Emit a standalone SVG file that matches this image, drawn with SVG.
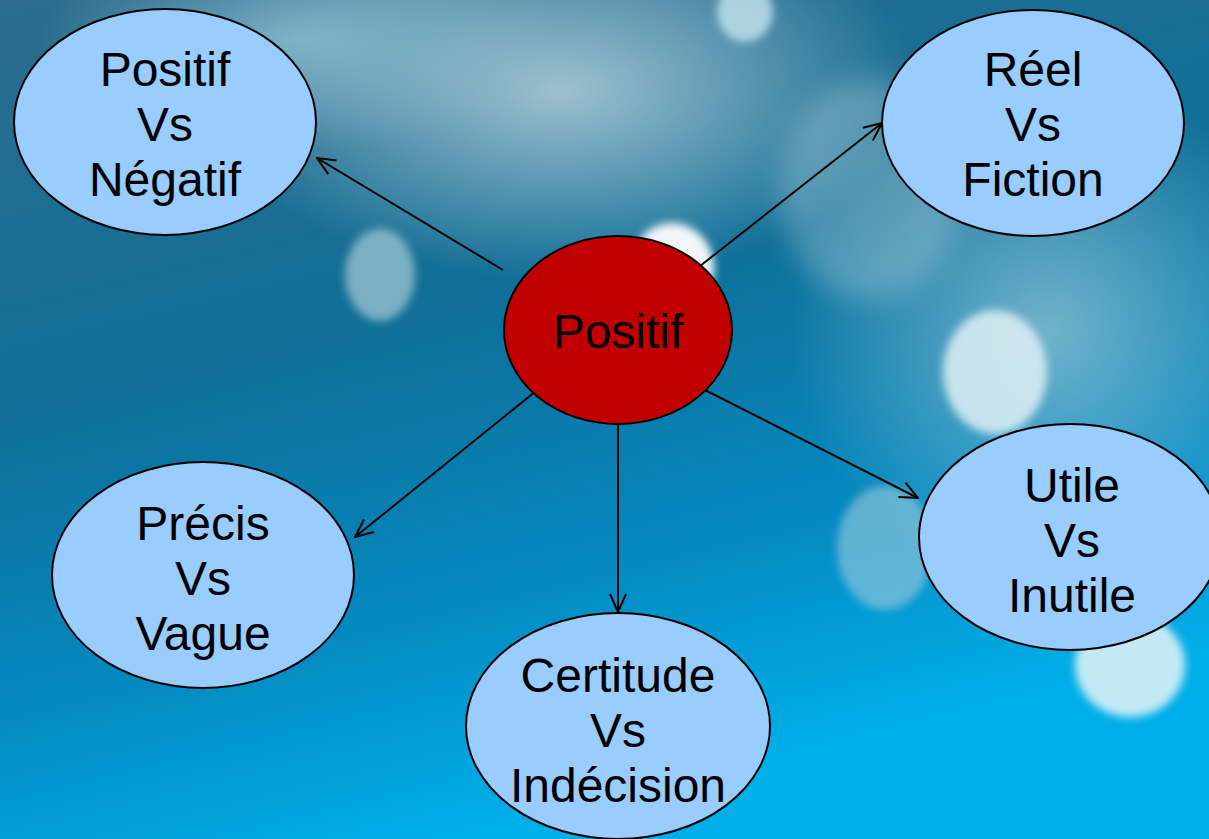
<svg xmlns="http://www.w3.org/2000/svg" width="1209" height="839" viewBox="0 0 1209 839">
<defs>
<linearGradient id="bg" x1="0" y1="0" x2="0.35" y2="1">
<stop offset="0" stop-color="#2d6c8c"/>
<stop offset="0.45" stop-color="#0f6f98"/>
<stop offset="0.75" stop-color="#0588bf"/>
<stop offset="1" stop-color="#00aee8"/>
</linearGradient>
<radialGradient id="haze" cx="0.5" cy="0.5" r="0.5">
<stop offset="0" stop-color="#c9dde4" stop-opacity="0.75"/>
<stop offset="1" stop-color="#c9dde4" stop-opacity="0"/>
</radialGradient>
<radialGradient id="haze2" cx="0.5" cy="0.5" r="0.5">
<stop offset="0" stop-color="#9cc9d8" stop-opacity="0.7"/>
<stop offset="1" stop-color="#9cc9d8" stop-opacity="0"/>
</radialGradient>
<filter id="blur" x="-50%" y="-50%" width="200%" height="200%"><feGaussianBlur stdDeviation="14"/></filter>
<filter id="blur2" x="-50%" y="-50%" width="200%" height="200%"><feGaussianBlur stdDeviation="4"/></filter>
<marker id="arr" viewBox="0 0 20 20" refX="19" refY="10" markerWidth="20" markerHeight="20" markerUnits="userSpaceOnUse" orient="auto">
<path d="M1,2 L19,10 L1,18" fill="none" stroke="#000" stroke-width="2"/>
</marker>
<style>
.n{fill:#99ccff;stroke:#000;stroke-width:2}
.c{fill:#c00000;stroke:#000;stroke-width:2}
text{font-family:"Liberation Sans",Arial,sans-serif;font-size:48px;fill:#000;text-anchor:middle}
.e{stroke:#000;stroke-width:2;fill:none;marker-end:url(#arr)}
</style>
</defs>
<g id="background">
<rect width="1209" height="839" fill="url(#bg)"/>
<ellipse cx="560" cy="90" rx="360" ry="190" fill="url(#haze)"/>
<ellipse cx="300" cy="40" rx="260" ry="110" fill="url(#haze2)"/>
<ellipse cx="1050" cy="330" rx="260" ry="260" fill="url(#haze2)"/>
<ellipse cx="870" cy="190" rx="90" ry="110" fill="#cfe0e6" opacity="0.3" filter="url(#blur)"/>
<ellipse cx="745" cy="12" rx="28" ry="30" fill="#bfe0ea" opacity="0.85" filter="url(#blur2)"/>
<ellipse cx="380" cy="275" rx="35" ry="46" fill="#a8ccd6" opacity="0.7" filter="url(#blur2)"/>
<ellipse cx="995" cy="372" rx="52" ry="62" fill="#dff0f5" opacity="0.85" filter="url(#blur2)"/>
<ellipse cx="885" cy="548" rx="48" ry="62" fill="#9fcbdc" opacity="0.6" filter="url(#blur2)"/>
<ellipse cx="1130" cy="665" rx="55" ry="52" fill="#e6f4f8" opacity="0.85" filter="url(#blur2)"/>
<ellipse cx="672" cy="268" rx="42" ry="45" fill="#f2f8fa" filter="url(#blur2)"/>
</g>
<g id="connectors">
<line class="e" x1="503" y1="270" x2="317" y2="158"/>
<line class="e" x1="695" y1="270" x2="882" y2="123"/>
<line class="e" x1="541" y1="387" x2="355" y2="537"/>
<line class="e" x1="618" y1="424" x2="618" y2="612"/>
<line class="e" x1="705" y1="390" x2="918" y2="498"/>
</g>
<g id="center">
<ellipse class="c" cx="618" cy="330" rx="114" ry="94"/>
<text x="618" y="348">Positif</text>
</g>
<g id="positif-negatif">
<ellipse class="n" cx="165" cy="122" rx="151" ry="113"/>
<text x="165" y="86">Positif</text>
<text x="165" y="141">Vs</text>
<text x="165" y="196">Négatif</text>
</g>
<g id="reel-fiction">
<ellipse class="n" cx="1033" cy="123" rx="151" ry="113"/>
<text x="1033" y="86">Réel</text>
<text x="1033" y="141">Vs</text>
<text x="1033" y="196">Fiction</text>
</g>
<g id="precis-vague">
<ellipse class="n" cx="203" cy="575" rx="151" ry="113"/>
<text x="203" y="540">Précis</text>
<text x="203" y="595">Vs</text>
<text x="203" y="650">Vague</text>
</g>
<g id="certitude-indecision">
<ellipse class="n" cx="618" cy="726" rx="152" ry="113"/>
<text x="618" y="692">Certitude</text>
<text x="618" y="747">Vs</text>
<text x="618" y="802">Indécision</text>
</g>
<g id="utile-inutile">
<ellipse class="n" cx="1070" cy="537" rx="151" ry="113"/>
<text x="1072" y="502">Utile</text>
<text x="1072" y="557">Vs</text>
<text x="1072" y="612">Inutile</text>
</g>
</svg>
